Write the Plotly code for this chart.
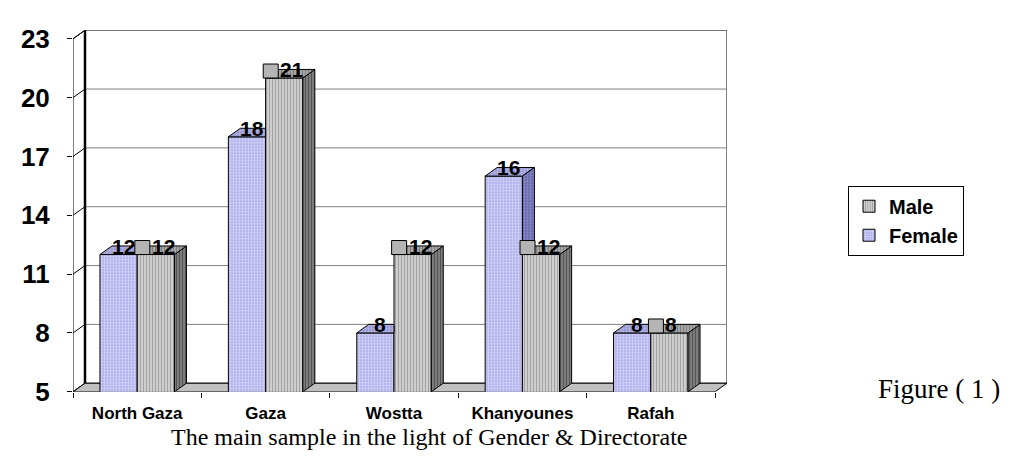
import plotly.graph_objects as go

# ---------------- data ----------------
categories = ["North Gaza", "Gaza", "Wostta", "Khanyounes", "Rafah"]
female = [12, 18, 8, 16, 8]
male = [12, 21, 12, 12, 8]
y_ticks = [5, 8, 11, 14, 17, 20, 23]

# ---------------- geometry / style ----------------
W, H = 1011, 457
PX_L, PX_R = 65, 719      # plot box pixels (front-left .. back-right)
PY_B, PY_T = 396, 17      # plot box pixels (front-bottom .. back-top)
DEPTH_X, DEPTH_Y = 12, 9  # 3D depth offset in pixels
Y_MIN, Y_MAX = y_ticks[0], y_ticks[-1]
n = len(categories)
X_MIN, X_MAXF = -0.5, n - 0.5
dxu = DEPTH_X * (X_MAXF - X_MIN) / (PX_R - PX_L - DEPTH_X)
dyu = DEPTH_Y * (Y_MAX - Y_MIN) / (PY_B - PY_T - DEPTH_Y)
BW = 0.29
xs = list(range(n))

SANS = "Liberation Sans, Arial, sans-serif"
SERIF = "Liberation Serif, Times New Roman, serif"

F_FRONT = dict(shape=".", fgcolor="#ffffff", bgcolor="#a9a9ec", size=3, solidity=0.5)
F_TOP = dict(shape=".", fgcolor="#e0e0f8", bgcolor="#9090d0", size=3, solidity=0.5)
F_SIDE = dict(shape=".", fgcolor="#b0b0e0", bgcolor="#6262a8", size=3, solidity=0.5)
M_FRONT = dict(shape="|", fgcolor="#6a6a6a", bgcolor="#dcdcdc", size=3, solidity=0.5)
M_TOP = dict(shape="|", fgcolor="#505050", bgcolor="#b0b0b0", size=3, solidity=0.5)
M_SIDE = dict(shape="|", fgcolor="#1e1e1e", bgcolor="#8a8a8a", size=3, solidity=0.5)

fig = go.Figure()

fig.add_trace(go.Bar(
    x=xs, y=female, name="Female", width=BW, offset=-BW, legendrank=2,
    marker=dict(color=F_FRONT["bgcolor"], pattern=F_FRONT, line=dict(color="black", width=1)),
    hoverinfo="skip"))
fig.add_trace(go.Bar(
    x=xs, y=male, name="Male", width=BW, offset=0, legendrank=1,
    marker=dict(color=M_FRONT["bgcolor"], pattern=M_FRONT, line=dict(color="black", width=1)),
    hoverinfo="skip"))


def poly(px, py, pat):
    fig.add_trace(go.Scatter(
        x=px + [px[0]], y=py + [py[0]], mode="lines", fill="toself",
        fillcolor=pat["bgcolor"], fillpattern=pat,
        line=dict(color="black", width=1), showlegend=False, hoverinfo="skip"))


for i, (f, m) in enumerate(zip(female, male)):
    # female top
    if m > f:
        poly([i - BW, i, i, i - BW + dxu], [f, f, f + dyu, f + dyu], F_TOP)
    else:
        poly([i - BW, i, i + dxu, i - BW + dxu], [f, f, f + dyu, f + dyu], F_TOP)
    # female side (visible only above the male bar)
    if f > m:
        poly([i, i, i + dxu, i + dxu], [m, f, f + dyu, m + dyu], F_SIDE)
    # male side & top
    poly([i + BW, i + BW, i + BW + dxu, i + BW + dxu], [Y_MIN, m, m + dyu, Y_MIN + dyu], M_SIDE)
    poly([i, i + BW, i + BW + dxu, i + dxu], [m, m, m + dyu, m + dyu], M_TOP)

shapes = []
# back wall
shapes.append(dict(type="rect", xref="x", yref="y", layer="below",
                   x0=X_MIN + dxu, x1=X_MAXF + dxu, y0=Y_MIN + dyu, y1=Y_MAX + dyu,
                   fillcolor="white", line=dict(color="black", width=1)))
for t in y_ticks[1:-1]:
    shapes.append(dict(type="line", xref="x", yref="y", layer="below",
                       x0=X_MIN + dxu, x1=X_MAXF + dxu, y0=t + dyu, y1=t + dyu,
                       line=dict(color="#808080", width=1)))
# left wall
shapes.append(dict(type="path", xref="x", yref="y", layer="below",
                   path=f"M{X_MIN},{Y_MIN} L{X_MIN},{Y_MAX} L{X_MIN+dxu},{Y_MAX+dyu} L{X_MIN+dxu},{Y_MIN+dyu} Z",
                   fillcolor="white", line=dict(color="black", width=1)))
for t in y_ticks:
    shapes.append(dict(type="line", xref="x", yref="y", layer="below",
                       x0=X_MIN, x1=X_MIN + dxu, y0=t, y1=t + dyu,
                       line=dict(color="black", width=1)))
shapes.append(dict(type="line", xref="x", yref="y", layer="below",
                   x0=X_MIN + dxu, x1=X_MIN + dxu, y0=Y_MIN + dyu, y1=Y_MAX + dyu,
                   line=dict(color="black", width=2.5)))
# floor
shapes.append(dict(type="path", xref="x", yref="y", layer="below",
                   path=f"M{X_MIN},{Y_MIN} L{X_MAXF},{Y_MIN} L{X_MAXF+dxu},{Y_MIN+dyu} L{X_MIN+dxu},{Y_MIN+dyu} Z",
                   fillcolor="#c0c0c0", line=dict(color="black", width=1)))
# small legend-key boxes beside male labels
for i, m in enumerate(male):
    shapes.append(dict(type="rect", xref="x", yref="y", layer="above",
                       xsizemode="pixel", ysizemode="pixel",
                       xanchor=i + BW / 2, yanchor=m, x0=-21, x1=-6, y0=0, y1=14,
                       fillcolor="#b4b4b4", line=dict(color="black", width=1)))

annotations = []
lab_font = dict(family=SANS, size=21, color="black", weight=700)
for i, (f, m) in enumerate(zip(female, male)):
    annotations.append(dict(x=i - BW / 2, y=f, xref="x", yref="y", text=str(f),
                            showarrow=False, xanchor="center", yanchor="bottom",
                            xshift=5, yshift=-5, font=lab_font))
    annotations.append(dict(x=i + BW / 2, y=m, xref="x", yref="y", text=str(m),
                            showarrow=False, xanchor="left", yanchor="bottom",
                            xshift=-6, yshift=-5, font=lab_font))
annotations.append(dict(x=421 / W, y=1 - 443 / H, xref="paper", yref="paper",
                        text="The main sample in the light of Gender & Directorate",
                        showarrow=False, xanchor="center", yanchor="middle",
                        font=dict(family=SERIF, size=24, color="black")))
annotations.append(dict(x=931 / W, y=1 - 393 / H, xref="paper", yref="paper",
                        text="Figure ( 1 )", showarrow=False, xanchor="center", yanchor="middle",
                        font=dict(family=SERIF, size=27, color="black")))

fig.update_layout(
    width=W, height=H, margin=dict(l=0, r=0, t=0, b=0),
    paper_bgcolor="white", plot_bgcolor="white",
    barmode="overlay", shapes=shapes, annotations=annotations,
    legend=dict(x=840 / W, y=1 - 180 / H, xanchor="left", yanchor="top",
                bordercolor="black", borderwidth=1, bgcolor="white",
                traceorder="normal", tracegroupgap=0,
                font=dict(family=SANS, size=20, color="black", weight=700)),
    xaxis=dict(domain=[PX_L / W, PX_R / W], range=[X_MIN, X_MAXF + dxu],
               tickvals=xs, ticktext=categories, ticks="", showgrid=False,
               zeroline=False, showline=False, ticklabelstandoff=9,
               tickfont=dict(family=SANS, size=17, color="black", weight=700),
               minor=dict(tickvals=[k - 0.5 for k in range(n + 1)], ticks="outside",
                          ticklen=5, tickcolor="black", showgrid=False)),
    yaxis=dict(domain=[1 - PY_B / H, 1 - PY_T / H], range=[Y_MIN, Y_MAX + dyu],
               tickvals=y_ticks, ticks="outside", ticklen=5, tickcolor="black",
               showgrid=False, zeroline=False, showline=False, ticklabelstandoff=12,
               tickfont=dict(family=SANS, size=26, color="black", weight=700)),
)

fig.write_html("out.html")
